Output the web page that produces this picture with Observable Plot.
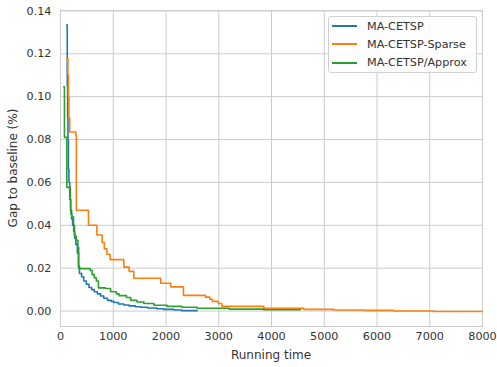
<!DOCTYPE html>
<html><head><meta charset="utf-8">
<script src="https://cdn.jsdelivr.net/npm/d3@7"></script>
<script src="https://cdn.jsdelivr.net/npm/@observablehq/plot@0.6"></script>
<style>
body{margin:0;background:#fff;font-family:"DejaVu Sans",sans-serif;}
#wrap{position:relative;width:497px;height:367px;}
#wrap svg{position:absolute;left:0;top:0;}
.lbl{position:absolute;font-size:12px;color:#333;white-space:nowrap;}
#legend{position:absolute;left:328px;top:16px;width:149px;height:57px;box-sizing:border-box;border:1px solid #d0d0d0;border-radius:3px;background:rgba(255,255,255,0.85);}
.row{position:absolute;left:3px;height:14px;display:flex;align-items:center;font-size:11.2px;color:#333;}
.sw{width:25px;height:2px;margin-right:10px;}
</style></head><body>
<div id="wrap"></div>
<script>
// Series names and colours
const seriesNames = ["MA-CETSP", "MA-CETSP-Sparse", "MA-CETSP/Approx"];
const seriesColors = ["#1f77b4", "#ff7f0e", "#2ca02c"];

// MA-CETSP (time, gap)
const cetspTime = [120,128,135,142,150,160,175,190,210,230,250,270,290,320,340,360,400,440,490,540,590,640,700,760,820,890,960,1010,1100,1200,1300,1420,1520,1650,1830,1950,2150,2300,2590];
const cetspGap  = [0.1335,0.105,0.090,0.080,0.066,0.060,0.052,0.047,0.043,0.040,0.037,0.034,0.031,0.027,0.021,0.0175,0.016,0.014,0.0125,0.011,0.010,0.009,0.008,0.007,0.006,0.005,0.0045,0.004,0.0033,0.0028,0.0024,0.002,0.0018,0.0014,0.0011,0.0008,0.0005,0.0002,0.0002];

// MA-CETSP-Sparse
const sparseTime = [120,140,150,160,175,290,300,530,690,790,830,880,940,1200,1300,1390,1900,2090,2330,2750,2830,2880,2990,3060,3855,4610,5180,5750,6320,7070,8000];
const sparseGap  = [0.1178,0.110,0.100,0.090,0.0835,0.082,0.047,0.040,0.0355,0.032,0.029,0.0265,0.024,0.0205,0.0185,0.0153,0.013,0.0113,0.0073,0.0065,0.0055,0.0045,0.0035,0.0022,0.0013,0.0008,0.0005,0.0003,0.0,-0.0002,-0.0002];

// MA-CETSP/Approx
const approxTime = [60,75,120,184,195,215,247,265,300,330,345,563,600,640,680,720,850,950,1060,1110,1250,1330,1450,1580,1770,2020,2300,2590,3200,3850,4550];
const approxGap  = [0.1046,0.081,0.0577,0.052,0.0453,0.044,0.040,0.035,0.033,0.0296,0.0198,0.019,0.017,0.0155,0.014,0.0108,0.0105,0.009,0.008,0.0072,0.0063,0.005,0.0042,0.0035,0.0027,0.0022,0.0018,0.0013,0.0009,0.0006,0.0006];

// Axis ticks and labels
const xTicks = [0,1000,2000,3000,4000,5000,6000,7000,8000];
const yTicks = [0,0.02,0.04,0.06,0.08,0.10,0.12,0.14];
const xLabel = "Running time";
const yLabel = "Gap to baseline (%)";

const toRows = (t, g) => t.map((x, i) => ({t: x, g: g[i]}));
const series = [toRows(cetspTime, cetspGap), toRows(sparseTime, sparseGap), toRows(approxTime, approxGap)];

const chart = Plot.plot({
  width: 497, height: 367,
  marginLeft: 60, marginRight: 15, marginTop: 10, marginBottom: 41,
  style: {fontFamily: "DejaVu Sans, sans-serif", fontSize: "11.2px", color: "#333", background: "transparent", overflow: "visible"},
  x: {domain: [0, 8000]},
  y: {domain: [-0.0072, 0.1402]},
  marks: [
    Plot.gridX(xTicks, {stroke: "#cccccc", strokeOpacity: 1, strokeWidth: 1}),
    Plot.gridY(yTicks, {stroke: "#cccccc", strokeOpacity: 1, strokeWidth: 1}),
    Plot.frame({stroke: "#cccccc", strokeWidth: 1}),
    Plot.axisX(xTicks, {tickSize: 0, tickPadding: 6, label: null, tickFormat: d3.format("d"), fill: "#333", fontSize: 11.2}),
    Plot.axisY(yTicks, {tickSize: 0, tickPadding: 9, label: null, tickFormat: d3.format(".2f"), fill: "#333", fontSize: 11.2}),
    ...series.map((d, i) => Plot.line(d, {x: "t", y: "g", curve: "step-after", stroke: seriesColors[i], strokeWidth: 1.6}))
  ]
});

const wrap = document.getElementById("wrap");
wrap.appendChild(chart);

const xl = document.createElement("div");
xl.className = "lbl"; xl.textContent = xLabel;
xl.style.left = "271px"; xl.style.top = "355px"; xl.style.transform = "translate(-50%,-50%)";
wrap.appendChild(xl);

const yl = document.createElement("div");
yl.className = "lbl"; yl.textContent = yLabel;
yl.style.left = "13px"; yl.style.top = "168px"; yl.style.transform = "translate(-50%,-50%) rotate(-90deg)";
wrap.appendChild(yl);

const leg = document.createElement("div");
leg.id = "legend";
const rowY = [9, 27, 45.5];
seriesNames.forEach((n, i) => {
  const r = document.createElement("div");
  r.className = "row"; r.style.top = (rowY[i] - 7) + "px";
  const s = document.createElement("span"); s.className = "sw"; s.style.background = seriesColors[i];
  const t = document.createElement("span"); t.textContent = n;
  r.appendChild(s); r.appendChild(t); leg.appendChild(r);
});
wrap.appendChild(leg);
</script>
</body></html>
